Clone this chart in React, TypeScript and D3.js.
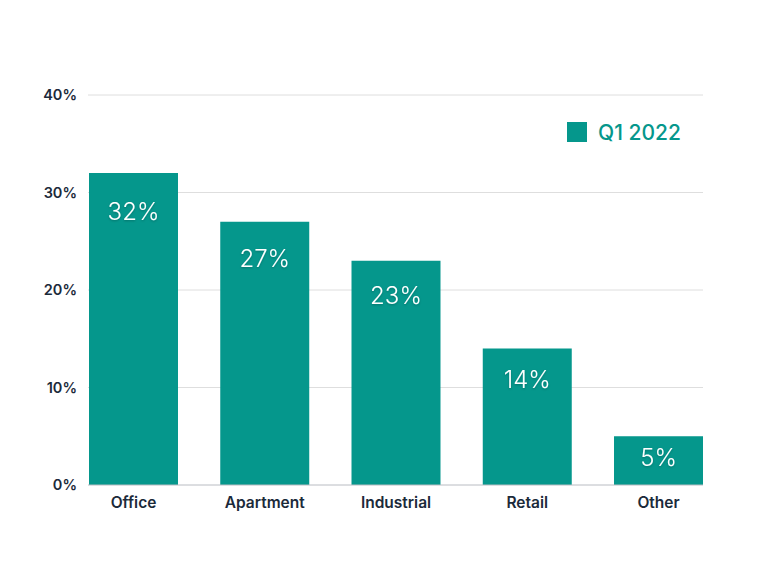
import React from "react";
import * as d3 from "d3";

const categories = ["Office", "Apartment", "Industrial", "Retail", "Other"];
const values = [32, 27, 23, 14, 5];
const yTicks = [0, 10, 20, 30, 40];
const seriesName = "Q1 2022";

const W = 760;
const H = 570;
const margin = { left: 89, right: 57, top: 95, bottom: 85 };
const TEAL = "#05978c";
const INK = "#1b2a3a";

export default function App() {
  const x = d3
    .scaleBand<string>()
    .domain(categories)
    .range([margin.left, W - margin.right])
    .paddingInner(0.322)
    .paddingOuter(0);
  const y = d3.scaleLinear().domain([0, 40]).range([H - margin.bottom, margin.top]);
  const font = "Inter, 'Noto Sans', sans-serif";

  return (
    <svg width={W} height={H} style={{ position: "absolute", left: 0, top: 0, background: "#fff" }}>
      <defs>
        <filter id="ts" x="-20%" y="-20%" width="140%" height="140%">
          <feDropShadow dx="0" dy="1" stdDeviation="0.8" floodColor="#000" floodOpacity="0.25" />
        </filter>
      </defs>
      {yTicks.map((t) => (
        <g key={t}>
          {t > 0 && (
            <line x1={88} x2={W - margin.right} y1={y(t)} y2={y(t)} stroke="#dedede" strokeWidth={1} />
          )}
          <text
            x={77}
            y={y(t)}
            dy="0.35em"
            textAnchor="end"
            fontFamily={font}
            fontSize={14.5}
            fontWeight={600}
            fill={INK}
          >
            {t}%
          </text>
        </g>
      ))}
      {categories.map((c, i) => {
        const top = y(values[i]);
        const h = y(0) - top;
        const off = Math.min(25 + 0.045 * h, h / 2 - 3);
        const cx = (x(c) as number) + x.bandwidth() / 2;
        return (
          <g key={c}>
            <rect x={x(c)} y={top} width={x.bandwidth()} height={h} fill={TEAL} />
            <text
              x={cx}
              y={top + off}
              dy="0.35em"
              textAnchor="middle"
              fontFamily={font}
              fontSize={24}
              fontWeight={300}
              fill="#ffffff"
              filter="url(#ts)"
            >
              {values[i]}%
            </text>
            <text
              x={cx}
              y={503}
              dy="0.35em"
              textAnchor="middle"
              fontFamily={font}
              fontSize={15.5}
              fontWeight={600}
              fill={INK}
            >
              {c}
            </text>
          </g>
        );
      })}
      <line x1={88} x2={W - margin.right} y1={y(0)} y2={y(0)} stroke="#b9bcc2" strokeWidth={1} />
      <rect x={567} y={122} width={20} height={20} fill={TEAL} />
      <text x={598} y={132} dy="0.36em" fontFamily={font} fontSize={21} fontWeight={500} fill={TEAL}>
        {seriesName}
      </text>
    </svg>
  );
}
